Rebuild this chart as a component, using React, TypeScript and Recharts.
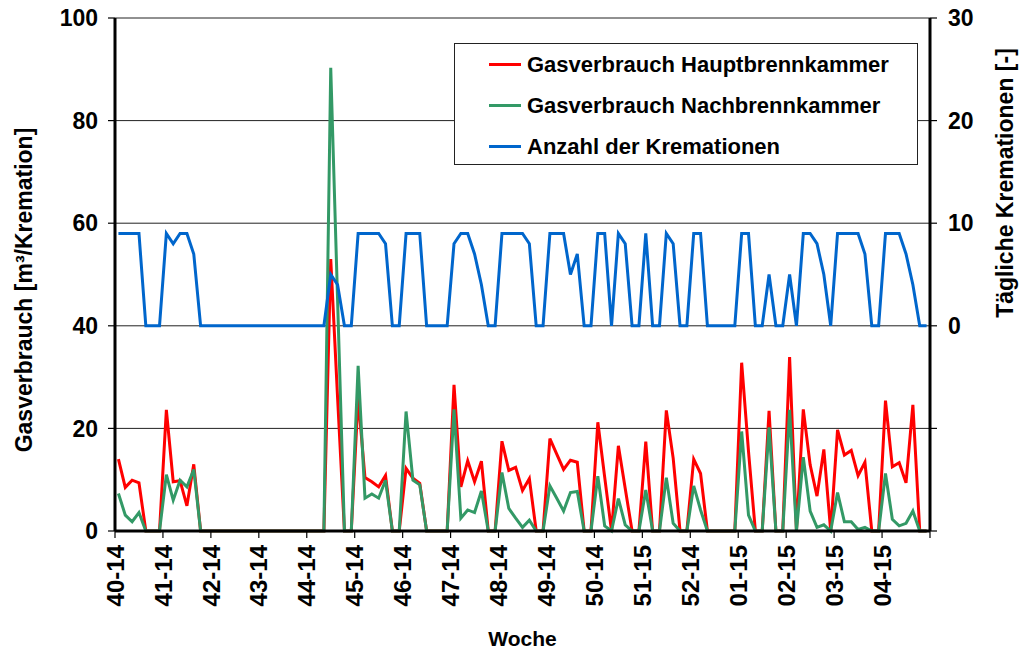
import { CartesianGrid, Legend, Line, LineChart, XAxis, YAxis } from 'recharts';

// week labels, one every 7 days
const weeks = [
  '40-14', '41-14', '42-14', '43-14', '44-14', '45-14', '46-14', '47-14', '48-14',
  '49-14', '50-14', '51-15', '52-14', '01-15', '02-15', '03-15', '04-15',
];

// daily number of cremations (right axis)
const cremations = [
  9, 9, 9, 9, 0, 0, 0, 9, 8, 9, 9, 7,
  0, 0, 0, 0, 0, 0, 0, 0, 0, 0, 0, 0, 0, 0, 0, 0, 0, 0,
  0, 5, 4, 0, 0,
  9, 9, 9, 9, 8, 0, 0,
  9, 9, 9, 0, 0, 0, 0,
  8, 9, 9, 7, 4, 0, 0,
  9, 9, 9, 9, 8, 0, 0,
  9, 9, 9, 5, 7, 0, 0,
  9, 9, 0, 9, 8, 0, 0,
  9, 0, 0, 9, 8, 0, 0,
  9, 9, 0, 0, 0, 0, 0,
  9, 9, 0, 0, 5, 0, 0,
  5, 0, 9, 9, 8, 5, 0,
  9, 9, 9, 9, 7, 0, 0,
  9, 9, 9, 7, 4, 0, 0,
];

// gas consumption main chamber [m³/cremation]
const mainChamber = [
  14, 8.5, 9.9, 9.4, 0, 0, 0, 23.6, 9.6, 9.8, 4.9, 13,
  0, 0, 0, 0, 0, 0, 0, 0, 0, 0, 0, 0, 0, 0, 0, 0, 0, 0,
  0, 53, 26, 0, 0,
  26, 10.4, 9.6, 8.6, 10.8, 0, 0,
  12.2, 10.3, 9.3, 0, 0, 0, 0,
  28.5, 8.6, 13.7, 9.6, 13.6, 0, 0,
  17.5, 11.8, 12.4, 7.9, 10.2, 0, 0,
  18, 15, 12, 13.8, 13.4, 0, 0,
  21.2, 10.5, 0, 16.6, 8.3, 0, 0,
  17.4, 0, 0, 23.5, 14.2, 0, 0,
  14, 11.2, 0, 0, 0, 0, 0,
  32.8, 15.5, 0, 0, 23.4, 0, 0,
  33.9, 0, 23.7, 12.9, 6.8, 15.9, 0,
  19.7, 14.8, 15.7, 10.8, 13.4, 0, 0,
  25.4, 12.5, 13.3, 9.4, 24.6, 0, 0,
];

// gas consumption afterburner chamber [m³/cremation]
const afterChamber = [
  7.3, 3.1, 1.8, 3.6, 0, 0, 0, 11, 6, 9.9, 8.6, 12,
  0, 0, 0, 0, 0, 0, 0, 0, 0, 0, 0, 0, 0, 0, 0, 0, 0, 0,
  0, 90.3, 45, 0, 0,
  32.2, 6.4, 7.2, 6.4, 9.9, 0, 0,
  23.3, 9.9, 9, 0, 0, 0, 0,
  23.7, 2.5, 4.1, 3.6, 7.8, 0, 0,
  11.4, 4.4, 2.5, 0.7, 2.1, 0, 0,
  8.8, 6.4, 3.9, 7.5, 7.7, 0, 0,
  10.7, 1, 0, 6.3, 1.2, 0, 0,
  8, 0, 0, 10.4, 1.5, 0, 0,
  8.8, 4.1, 0, 0, 0, 0, 0,
  19.4, 3.1, 0, 0, 20.2, 0, 0,
  23.6, 0, 14.4, 3.9, 0.7, 1.2, 0,
  7.5, 1.8, 1.8, 0.3, 0.7, 0, 0,
  11.2, 2.3, 1, 1.5, 3.9, 0, 0,
];

const leftTicks = [0, 20, 40, 60, 80, 100];
const rightTicks = [-20, -10, 0, 10, 20, 30];

// legend order as in the original
const seriesNames = ['Gasverbrauch Hauptbrennkammer', 'Gasverbrauch Nachbrennkammer', 'Anzahl der Kremationen'];

const data = cremations.map((count, i) => ({
  day: i,
  main: mainChamber[i],
  after: afterChamber[i],
  count,
}));

const weekTicks = [...weeks.map((_, i) => i * 7 - 0.5), weeks.length * 7 - 0.5];

const FONT = 'Arial, "Liberation Sans", Helvetica, sans-serif';
const tickStyle = { fontSize: 23, fontWeight: 700, fill: '#000', fontFamily: FONT };
const xTickStyle = { fontSize: 24, fontWeight: 700, fill: '#000', fontFamily: FONT };
const titleStyle = { fontSize: 23, fontWeight: 700, fill: '#000', fontFamily: FONT };

function WeekTick({ x, y, payload }: any) {
  const label = weeks[Math.round((payload.value + 0.5) / 7)] ?? '';
  return (
    <text
      x={x}
      y={y}
      transform={`rotate(-90 ${x} ${y})`}
      textAnchor="end"
      dy="0.36em"
      style={xTickStyle}
    >
      {label}
    </text>
  );
}

function LegendBox({ payload }: any) {
  const items = seriesNames
    .map((name) => (payload || []).find((p: any) => p.value === name))
    .filter(Boolean);
  return (
    <div
      style={{
        width: '100%',
        height: '100%',
        boxSizing: 'border-box',
        border: '1px solid #222',
        background: '#fff',
        fontFamily: FONT,
        fontWeight: 700,
        fontSize: 22,
        color: '#000',
      }}
    >
      {items.map((item: any) => (
        <div key={item.value} style={{ height: 41, display: 'flex', alignItems: 'center' }}>
          <span style={{ marginLeft: 34, width: 32, height: 3, background: item.color }} />
          <span style={{ marginLeft: 6, whiteSpace: 'nowrap' }}>{item.value}</span>
        </div>
      ))}
    </div>
  );
}

export default function App() {
  return (
    <div style={{ position: 'absolute', left: 0, top: 0, background: '#fff' }}>
      <LineChart width={1023} height={652} data={data} margin={{ top: 18, right: 0, bottom: 0, left: 0 }}>
        <CartesianGrid yAxisId="left" vertical={false} stroke="#222" strokeWidth={1} />
        <XAxis
          type="number"
          dataKey="day"
          domain={[-0.5, cremations.length - 0.5]}
          ticks={weekTicks}
          interval={0}
          height={121}
          tickSize={7}
          tickMargin={7}
          axisLine={{ stroke: '#000', strokeWidth: 3 }}
          tickLine={{ stroke: '#000', strokeWidth: 1.2 }}
          tick={<WeekTick />}
          label={(p: any) => (
            <text
              x={p.viewBox.x + p.viewBox.width / 2}
              y={p.viewBox.y + 115}
              textAnchor="middle"
              style={{ ...titleStyle, fontSize: 21 }}
            >
              Woche
            </text>
          )}
        />
        <YAxis
          yAxisId="left"
          domain={[0, 100]}
          ticks={leftTicks}
          interval={0}
          width={115}
          tickSize={7}
          tickMargin={10}
          axisLine={{ stroke: '#000', strokeWidth: 3 }}
          tickLine={{ stroke: '#000', strokeWidth: 1.2 }}
          tick={tickStyle}
          label={(p: any) => {
            const cx = p.viewBox.x + 24;
            const cy = p.viewBox.y + 272;
            return (
              <text
                x={cx}
                y={cy}
                transform={`rotate(-90 ${cx} ${cy})`}
                textAnchor="middle"
                dominantBaseline="central"
                style={titleStyle}
              >
                Gasverbrauch [m³/Kremation]
              </text>
            );
          }}
        />
        <YAxis
          yAxisId="right"
          orientation="right"
          domain={[-20, 30]}
          ticks={rightTicks}
          interval={0}
          width={93}
          tickSize={7}
          tickMargin={11}
          tickFormatter={(v: number) => (v < 0 ? '' : String(v))}
          axisLine={{ stroke: '#000', strokeWidth: 3 }}
          tickLine={{ stroke: '#000', strokeWidth: 1.2 }}
          tick={tickStyle}
          label={(p: any) => {
            const cx = p.viewBox.x + 75;
            const cy = p.viewBox.y + 165;
            return (
              <text
                x={cx}
                y={cy}
                transform={`rotate(-90 ${cx} ${cy})`}
                textAnchor="middle"
                dominantBaseline="central"
                style={titleStyle}
              >
                Tägliche Kremationen [-]
              </text>
            );
          }}
        />
        <Line
          yAxisId="left"
          type="linear"
          dataKey="main"
          name={seriesNames[0]}
          stroke="#ff0000"
          strokeWidth={3}
          dot={false}
          isAnimationActive={false}
        />
        <Line
          yAxisId="left"
          type="linear"
          dataKey="after"
          name={seriesNames[1]}
          stroke="#339966"
          strokeWidth={3}
          dot={false}
          isAnimationActive={false}
        />
        <Line
          yAxisId="right"
          type="linear"
          dataKey="count"
          name={seriesNames[2]}
          stroke="#0066cc"
          strokeWidth={3}
          dot={false}
          isAnimationActive={false}
        />
        <Legend
          layout="vertical"
          align="center"
          verticalAlign="middle"
          wrapperStyle={{ left: 454, top: 43, width: 464, height: 122 }}
          content={<LegendBox />}
        />
      </LineChart>
    </div>
  );
}
